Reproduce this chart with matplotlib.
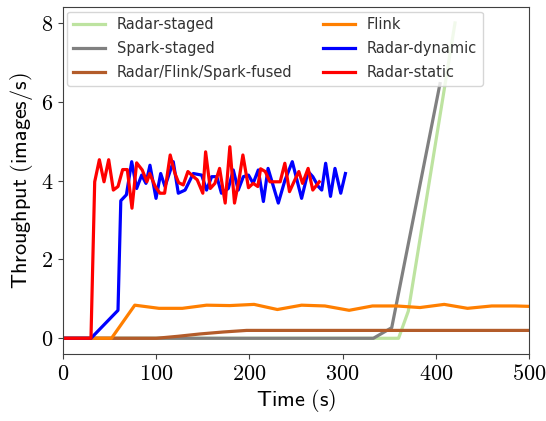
import matplotlib
matplotlib.use("Agg")
import matplotlib.pyplot as plt
from matplotlib.ticker import FuncFormatter

plt.rcParams['mathtext.fontset'] = 'cm'

# throughput traces (time in s, images/s)
radar_staged_t = [0, 360, 370.5, 420.6]
radar_staged_v = [0, 0, 0.69, 8.0]

spark_staged_t = [0, 333, 352.7, 404.5]
spark_staged_v = [0, 0, 0.27, 6.46]

fused_t = [0, 100, 123, 147, 172, 197, 510]
fused_v = [0, 0, 0.05, 0.11, 0.16, 0.2, 0.2]

flink_t = [0, 52, 77, 103, 128, 154, 179, 205, 230, 256, 281, 307, 332, 358,
           383, 409, 434, 460, 485, 500]
flink_v = [0, 0, 0.84, 0.76, 0.76, 0.84, 0.83, 0.86, 0.73, 0.84, 0.82, 0.71,
           0.82, 0.82, 0.78, 0.86, 0.76, 0.82, 0.82, 0.81]

dynamic_t = [0, 30, 59, 62, 68, 73.7, 79, 84.4, 89, 93.3, 99.8, 104.8, 109.4,
             118.3, 123.7, 131, 139.8, 148.8, 154, 159.5, 165, 170, 177.4,
             182.7, 188, 193.5, 199, 204, 209.5, 215, 220, 231, 238, 246, 256,
             263, 268, 274, 277.6, 281.8, 287, 291.8, 298, 303]
dynamic_v = [0, 0, 0.71, 3.49, 3.64, 4.48, 3.8, 4.14, 3.93, 4.39, 3.55, 4.18,
             3.85, 4.48, 3.68, 3.76, 4.18, 4.14, 3.76, 4.1, 4.1, 3.68, 3.8,
             4.27, 3.76, 4.1, 4.14, 3.93, 4.27, 3.47, 4.31, 3.43, 4.0, 4.48,
             3.55, 4.23, 4.1, 3.85, 3.76, 4.44, 3.6, 4.31, 3.68, 4.18]

static_t = [0, 30, 34, 39, 44, 49, 54, 59, 64, 69, 74, 79, 85, 90, 93, 99,
            104, 109, 115, 120, 124, 129, 134, 139, 144, 150, 153, 158, 163,
            168, 174, 179, 184, 189, 193, 199, 204, 209, 212, 217, 222, 228,
            233, 238, 243, 248, 253, 257, 263, 268, 275]
static_v = [0, 0, 3.97, 4.53, 3.97, 4.53, 3.76, 3.85, 4.28, 4.28, 3.3, 4.45,
            4.27, 3.97, 4.18, 3.85, 3.68, 3.68, 4.65, 4.19, 3.95, 3.89, 4.23,
            4.12, 4.02, 3.68, 4.73, 3.8, 3.93, 4.31, 3.43, 4.86, 3.43, 4.05,
            4.65, 3.82, 3.93, 3.85, 4.3, 4.23, 3.97, 3.97, 3.97, 4.44, 3.72,
            3.98, 4.23, 3.93, 4.31, 3.76, 3.97]

fig = plt.figure(figsize=(5.46, 4.21), dpi=100)
ax = fig.add_axes([0.1154, 0.159, 0.8535, 0.824])

lw = 2.3
ax.plot(radar_staged_t, radar_staged_v, color='#bde3a0', lw=lw, label='Radar-staged')
ax.plot(spark_staged_t, spark_staged_v, color='#808080', lw=lw, label='Spark-staged')
ax.plot(fused_t, fused_v, color='#b35c2a', lw=lw, label='Radar/Flink/Spark-fused')
ax.plot(flink_t, flink_v, color='#ff7f00', lw=lw, label='Flink')
ax.plot(dynamic_t, dynamic_v, color='blue', lw=lw, label='Radar-dynamic')
ax.plot(static_t, static_v, color='red', lw=lw, label='Radar-static')

ax.set_xlim(0, 500)
ax.set_ylim(-0.4, 8.4)
ax.set_xticks([0, 100, 200, 300, 400, 500])
ax.set_yticks([0, 2, 4, 6, 8])
ax.xaxis.set_major_formatter(FuncFormatter(lambda v, p: '$%d$' % v))
ax.yaxis.set_major_formatter(FuncFormatter(lambda v, p: '$%d$' % v))
ax.tick_params(labelsize=16, color='#404040')
for s in ax.spines.values():
    s.set_color('#404040')

ax.set_xlabel(r'$\mathsf{Time\ (s)}$', fontsize=16, labelpad=2)
ax.set_ylabel(r'$\mathsf{Throughput\ (images/s)}$', fontsize=16, labelpad=4)

leg = ax.legend(loc='upper left', ncol=2, fontsize=10.5, handlelength=2.2,
                columnspacing=2.1, labelspacing=0.6, borderaxespad=0.3)
for t in leg.get_texts():
    t.set_color('#333333')

fig.savefig('out.png', dpi=100)
